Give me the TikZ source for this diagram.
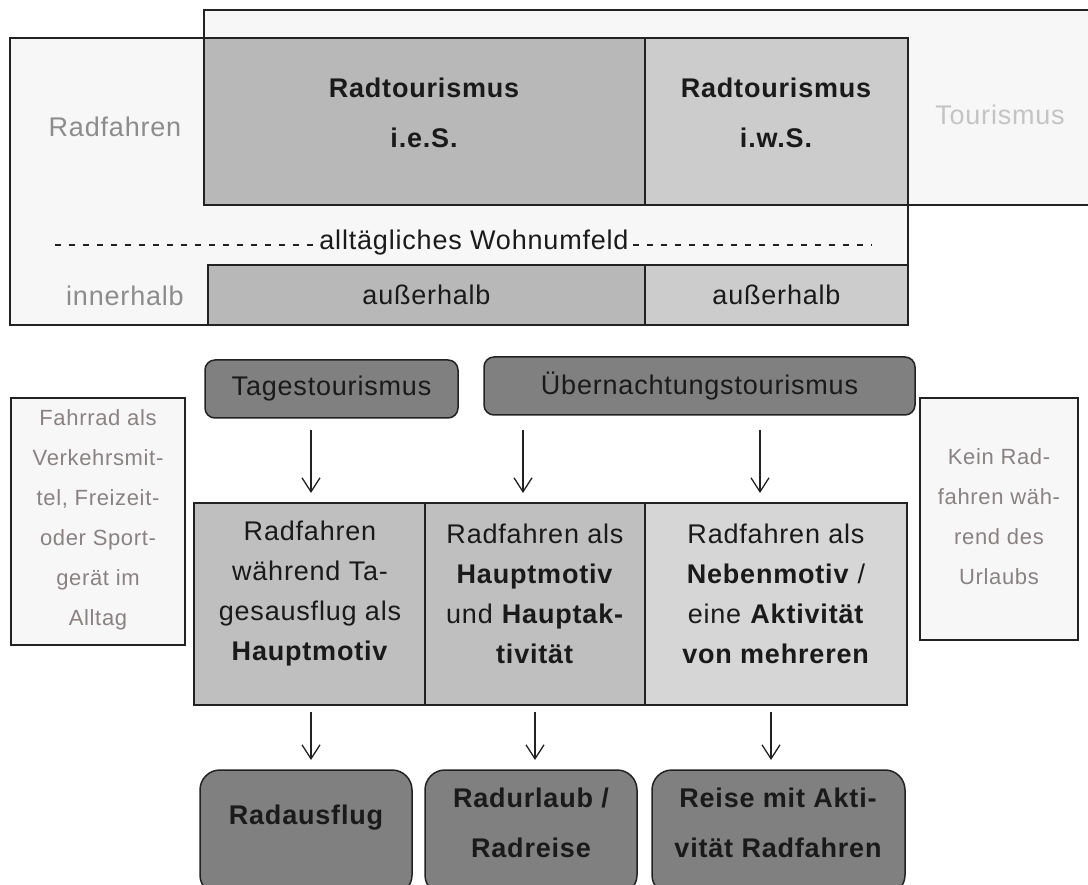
\documentclass[tikz,border=0pt]{standalone}
\usepackage{fontspec}
\setmainfont{Liberation Sans}[LetterSpace=3]
\usetikzlibrary{arrows.meta}
\definecolor{pale}{HTML}{F7F7F7}
\definecolor{midA}{HTML}{B8B8B8}
\definecolor{midB}{HTML}{CCCCCC}
\definecolor{rowA}{HTML}{BFBFBF}
\definecolor{rowC}{HTML}{D6D6D6}
\definecolor{dgray}{HTML}{808080}
\definecolor{linec}{HTML}{222222}
\definecolor{sidetext}{HTML}{8A8282}
\definecolor{radtext}{HTML}{8C8C8C}
\definecolor{tourtext}{HTML}{C4C4C4}
\definecolor{blacktext}{HTML}{1A1A1A}
\begin{document}
\begin{tikzpicture}[x=1pt,y=-1pt,
  box/.style={draw=linec, line width=1.5pt, inner sep=0pt, outer sep=0pt, anchor=north west},
  rbox/.style={box, fill=dgray, rounded corners=10pt},
  bbox/.style={box, fill=dgray, rounded corners=20pt},
  txt/.style={font=\fontsize{27}{40}\selectfont, align=center, inner sep=0pt, text=blacktext},
  htxt/.style={font=\fontsize{27}{50}\selectfont\bfseries, align=center, inner sep=0pt, text=blacktext},
  stxt/.style={font=\fontsize{22}{40}\selectfont, align=center, inner sep=0pt, text=sidetext},
  arr/.style={-{Straight Barb[length=14pt,width=18pt]}, line width=1.3pt, draw=linec},
  dashline/.style={line width=1.5pt, draw=linec, dash pattern=on 6pt off 8pt}
]
\useasboundingbox (0,0) rectangle (1088,885);
\fill[white] (0,0) rectangle (1088,885);

% ---- top section ----
\node[box, fill=pale, minimum width=900pt, minimum height=195pt] (tour) at (204,10) {};
\node[box, fill=pale, minimum width=898pt, minimum height=287pt] (rad) at (10,38) {};
\node[box, fill=midA, minimum width=441pt, minimum height=167pt] (ies) at (204,38) {};
\node[box, fill=midB, minimum width=263pt, minimum height=167pt] (iws) at (645,38) {};
\draw[linec, line width=2.5pt] (ies.south west) -- (iws.south east);
\node[box, fill=midA, minimum width=437pt, minimum height=60pt] (aus1) at (208,265) {};
\node[box, fill=midB, minimum width=263pt, minimum height=60pt] (aus2) at (645,265) {};

\node[htxt] (iesT) at (424,113) {Radtourismus\\i.e.S.};
\node[htxt] (iwsT) at (776,113) {Radtourismus\\i.w.S.};
\node[txt, text=tourtext] (tourT) at (1000,115) {Tourismus};
\node[txt, text=radtext] (radT) at (115,127) {Radfahren};
\node[txt, text=radtext] (innT) at (125,296) {innerhalb};
\node[txt] (aus1T) at (aus1.center) {außerhalb};
\node[txt] (aus2T) at (aus2.center) {außerhalb};

\node[txt, inner xsep=4pt] (wohn) at (474,243) {alltägliches Wohnumfeld};
\coordinate (dl) at (55,245);
\coordinate (dr) at (872,245);
\draw[dashline] (dl) -- (dl -| wohn.west);
\draw[dashline] (dr -| wohn.east) -- (dr);

% ---- middle section ----
\node[rbox, minimum width=253pt, minimum height=58pt] (tag) at (205,360) {};
\node[txt] (tagT) at (tag.center) {Tagestourismus};
\node[rbox, minimum width=431pt, minimum height=58pt] (ueb) at (484,357) {};
\node[txt] (uebT) at (ueb.center) {Übernachtungstourismus};

\node[box, fill=pale, minimum width=174pt, minimum height=247pt] (left) at (11,398) {};
\node[stxt] (leftT) at (98,520) {Fahrrad als\\Verkehrsmit-\\tel, Freizeit-\\oder Sport-\\gerät im\\Alltag};
\node[box, fill=pale, minimum width=158pt, minimum height=242pt] (right) at (920,398) {};
\node[stxt] (rightT) at (999,517) {Kein Rad-\\fahren wäh-\\rend des\\Urlaubs};

\node[box, fill=rowA, minimum width=231pt, minimum height=202pt] (m1) at (194,503) {};
\node[box, fill=rowA, minimum width=220pt, minimum height=202pt] (m2) at (425,503) {};
\node[box, fill=rowC, minimum width=262pt, minimum height=202pt] (m3) at (645,503) {};
\node[txt] (m1T) at (310,594) {Radfahren\\während Ta-\\gesausflug als\\\textbf{Hauptmotiv}};
\node[txt] (m2T) at (535,594) {Radfahren als\\\textbf{Hauptmotiv}\\und \textbf{Hauptak-}\\\textbf{tivität}};
\node[txt] (m3T) at (776,594) {Radfahren als\\\textbf{Nebenmotiv} /\\eine \textbf{Aktivität}\\\textbf{von mehreren}};

\coordinate (a1) at (311,0);
\coordinate (a2) at (523,0);
\coordinate (a3) at (760,0);
\draw[arr, shorten <=12pt, shorten >=10pt] (tag.south -| a1) -- (m1.north -| a1);
\draw[arr, shorten <=15pt, shorten >=10pt] (ueb.south -| a2) -- (m2.north -| a2);
\draw[arr, shorten <=15pt, shorten >=10pt] (ueb.south -| a3) -- (m3.north -| a3);

% ---- bottom section ----
\node[bbox, minimum width=212pt, minimum height=125pt] (b1) at (200,770) {};
\node[bbox, minimum width=212pt, minimum height=125pt] (b2) at (425,770) {};
\node[bbox, minimum width=253pt, minimum height=125pt] (b3) at (652,770) {};
\node[htxt] (b1T) at (306,818) {Radausflug};
\node[htxt] (b2T) at (531,823) {Radurlaub /\\Radreise};
\node[htxt] (b3T) at (778,823) {Reise mit Akti-\\vität Radfahren};

\coordinate (c1) at (311,0);
\coordinate (c2) at (535,0);
\coordinate (c3) at (771,0);
\draw[arr, shorten <=7pt, shorten >=10pt] (m1.south -| c1) -- (b1.north -| c1);
\draw[arr, shorten <=7pt, shorten >=10pt] (m2.south -| c2) -- (b2.north -| c2);
\draw[arr, shorten <=7pt, shorten >=10pt] (m3.south -| c3) -- (b3.north -| c3);
\end{tikzpicture}
\end{document}
